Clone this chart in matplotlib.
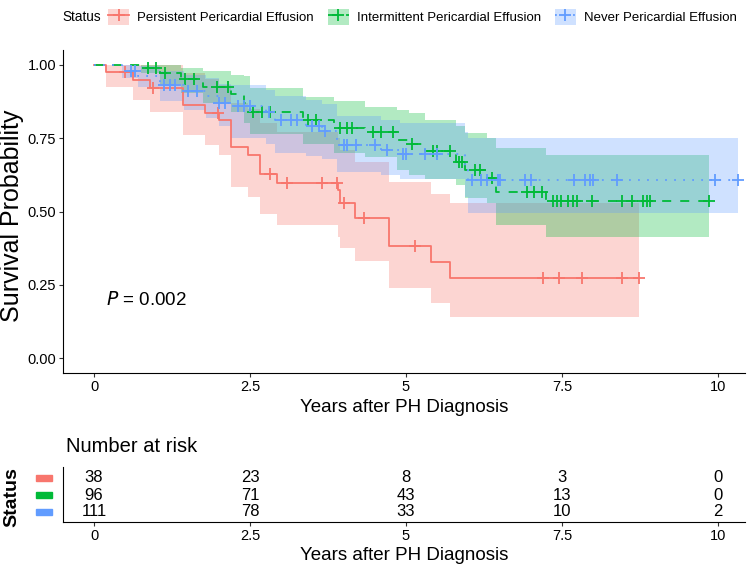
import numpy as np
import matplotlib.pyplot as plt
from matplotlib.patches import Patch, Rectangle
from matplotlib.lines import Line2D
import matplotlib.transforms as mtransforms

plt.rcParams['font.family'] = ['Liberation Sans', 'DejaVu Sans']

groups = ["Persistent Pericardial Effusion", "Intermittent Pericardial Effusion",
          "Never Pericardial Effusion"]
colors = ["#F8766D", "#00BA38", "#619CFF"]
styles = ["-", (0, (5, 5)), (0, (1, 4))]

# --- Persistent (red) ---
pers_t = [0, 0.2, 0.63, 0.9, 1.43, 1.78, 2.0, 2.2, 2.47, 2.66, 2.93, 3.91, 3.95, 4.18, 4.73, 5.4, 5.7]
pers_s = [1.0, 0.974, 0.947, 0.92, 0.863, 0.836, 0.81, 0.72, 0.693, 0.628, 0.597, 0.573, 0.528, 0.478, 0.382, 0.328, 0.273]
pers_lo = [1.0, 0.925, 0.88, 0.84, 0.76, 0.727, 0.693, 0.584, 0.55, 0.49, 0.454, 0.413, 0.375, 0.331, 0.239, 0.188, 0.14]
pers_hi = [1.0, 1.0, 1.0, 1.0, 0.97, 0.95, 0.93, 0.87, 0.85, 0.8, 0.77, 0.75, 0.71, 0.67, 0.6, 0.56, 0.53]
pers_end = 8.74
pers_cens = [0.5, 0.95, 1.99, 2.82, 3.09, 3.65, 3.89, 4.0, 4.33, 5.14, 7.2, 7.45, 7.82, 8.46, 8.74]

# --- Intermittent (green) ---
inter_t = [0, 0.75, 1.05, 1.4, 1.75, 2.2, 2.4, 2.5, 3.35, 3.85, 4.35, 4.85, 5.05, 5.3, 5.8, 5.95, 6.3, 6.45, 7.25]
inter_s = [1.0, 0.99, 0.97, 0.95, 0.925, 0.90, 0.87, 0.84, 0.81, 0.785, 0.77, 0.745, 0.73, 0.705, 0.67, 0.64, 0.615, 0.567, 0.535]
inter_lo = [1.0, 0.97, 0.935, 0.905, 0.87, 0.84, 0.80, 0.765, 0.73, 0.70, 0.685, 0.64, 0.625, 0.61, 0.59, 0.545, 0.53, 0.454, 0.413]
inter_hi = [1.0, 1.0, 1.0, 0.99, 0.98, 0.965, 0.96, 0.92, 0.89, 0.875, 0.855, 0.846, 0.836, 0.81, 0.79, 0.768, 0.75, 0.717, 0.693]
inter_end = 9.86
inter_cens = [0.87, 1.0, 1.14, 1.46, 1.6, 1.97, 2.15, 2.55, 2.7, 2.82, 3.43, 3.55, 3.94, 4.05, 4.13,
              4.47, 4.6, 4.79, 5.1, 5.43, 5.5, 5.7, 5.85, 5.9, 6.1, 6.18, 6.38, 6.94, 7.05, 7.18,
              7.36, 7.42, 7.48, 7.6, 7.68, 7.74, 7.98, 8.46, 8.62, 8.8, 8.86, 8.91, 9.86]

# --- Never (blue) ---
never_t = [0, 0.45, 0.7, 1.05, 1.45, 1.8, 2.0, 2.2, 2.75, 2.9, 3.4, 3.65, 3.9, 4.6, 4.9, 5.95, 6.0]
never_s = [1.0, 0.98, 0.96, 0.93, 0.91, 0.895, 0.87, 0.86, 0.84, 0.81, 0.79, 0.775, 0.725, 0.71, 0.695, 0.64, 0.607]
never_lo = [1.0, 0.955, 0.925, 0.875, 0.845, 0.82, 0.79, 0.75, 0.73, 0.70, 0.69, 0.68, 0.635, 0.625, 0.61, 0.55, 0.495]
never_hi = [1.0, 1.0, 0.995, 0.98, 0.965, 0.955, 0.935, 0.93, 0.915, 0.895, 0.88, 0.865, 0.825, 0.81, 0.8, 0.77, 0.75]
never_end = 10.32
never_cens = [0.6, 0.65, 1.12, 1.22, 1.3, 1.5, 1.65, 2.0, 2.1, 2.3, 2.4, 2.5, 2.8, 3.0, 3.15, 3.25,
              3.5, 3.6, 3.7, 4.0, 4.05, 4.2, 4.5, 4.7, 4.95, 5.0, 5.3, 5.5, 6.05, 6.2, 6.3, 6.47,
              6.5, 6.9, 7.0, 7.7, 7.87, 7.95, 8.0, 8.38, 9.95, 10.32]

curves = [
    (pers_t, pers_s, pers_lo, pers_hi, pers_end, pers_cens),
    (inter_t, inter_s, inter_lo, inter_hi, inter_end, inter_cens),
    (never_t, never_s, never_lo, never_hi, never_end, never_cens),
]

# number at risk
risk_times = [0, 2.5, 5, 7.5, 10]
risk_pers = [38, 23, 8, 3, 0]
risk_inter = [96, 71, 43, 13, 0]
risk_never = [111, 78, 33, 10, 2]

xticks = [0, 2.5, 5, 7.5, 10]
xticklabels = ["0", "2.5", "5", "7.5", "10"]
xlim = (-0.497, 10.433)

fig = plt.figure(figsize=(7.5, 5.72), dpi=100)
ax = fig.add_axes([63 / 750, 1 - 373 / 572, 682 / 750, 323 / 572])

# ribbons first
for (t, s, lo, hi, end, cens), c in zip(curves, colors):
    te = list(t) + [end]
    ax.fill_between(te, list(lo) + [lo[-1]], list(hi) + [hi[-1]], step='post',
                    color=c, alpha=0.3, lw=0)

for (t, s, lo, hi, end, cens), c, ls in zip(curves, colors, styles):
    te = list(t) + [end]
    se = list(s) + [s[-1]]
    ax.step(te, se, where='post', color=c, lw=1.3, ls=ls)
    idx = np.searchsorted(t, cens, side='right') - 1
    ax.plot(cens, np.array(s)[idx], ls='none', marker='+', ms=8, mew=1.3, color=c)

ax.set_xlim(*xlim)
ax.set_ylim(-0.05, 1.05)
ax.set_xticks(xticks)
ax.set_xticklabels(xticklabels)
ax.set_yticks([0, 0.25, 0.5, 0.75, 1.0])
ax.set_yticklabels(["0.00", "0.25", "0.50", "0.75", "1.00"])
ax.tick_params(labelsize=10.5, length=3, pad=2, width=0.8, color='#333333', labelcolor='black')
for sp in ['top', 'right']:
    ax.spines[sp].set_visible(False)
ax.set_xlabel("Years after PH Diagnosis", fontsize=13.5, labelpad=4)
fig.text(12 / 750, 1 - 216 / 572, "Survival Probability", rotation=90, fontsize=18,
         ha='center', va='center')
ax.text(0.2, 0.2, "$\\it{P}$ = 0.002", fontsize=13.5, ha='left', va='center')

# legend on top
fig.text(62 / 750, 1 - 17 / 572, "Status", fontsize=9.8, ha='left', va='center')
handles = [(Patch(facecolor=c, alpha=0.3, lw=0),
            Line2D([], [], color=c, ls=ls, lw=1.3, marker='+', ms=8, mew=1.3))
           for c, ls in zip(colors, styles)]
fig.legend(handles, groups, ncol=3, loc='center left', frameon=False,
           bbox_to_anchor=(108 / 750, 1 - 17 / 572), fontsize=9.5,
           handlelength=1.6, handleheight=1.6, handletextpad=0.6, columnspacing=1.05,
           borderaxespad=0, borderpad=0)

# risk table
ax2 = fig.add_axes([63 / 750, 1 - 522 / 572, 682 / 750, 55 / 572])
ax2.set_xlim(*xlim)
ax2.set_ylim(1 - 10 / 17, 3 + 11 / 17)
rows = [risk_pers, risk_inter, risk_never]
for i, (vals, c) in enumerate(zip(rows, colors)):
    yrow = 3 - i
    for tx, v in zip(risk_times, vals):
        ax2.text(tx, yrow, str(v), ha='center', va='center', fontsize=12)
    trans = mtransforms.blended_transform_factory(ax2.transAxes, ax2.transData)
    ax2.add_patch(Rectangle((-0.04, yrow - 0.2), 0.024, 0.4, transform=trans,
                            color=c, clip_on=False))
ax2.set_xticks(xticks)
ax2.set_xticklabels(xticklabels)
ax2.set_yticks([])
ax2.tick_params(labelsize=10.5, length=3, pad=2, width=0.8, color='#333333')
for sp in ['top', 'right']:
    ax2.spines[sp].set_visible(False)
ax2.set_xlabel("Years after PH Diagnosis", fontsize=13.5, labelpad=3)
fig.text(12 / 750, 1 - 497 / 572, "Status", rotation=90, fontsize=14,
         fontweight='bold', ha='center', va='center')
fig.text(66 / 750, 1 - 447 / 572, "Number at risk", fontsize=14.5, ha='left', va='center')

fig.savefig("out.png", dpi=100)
